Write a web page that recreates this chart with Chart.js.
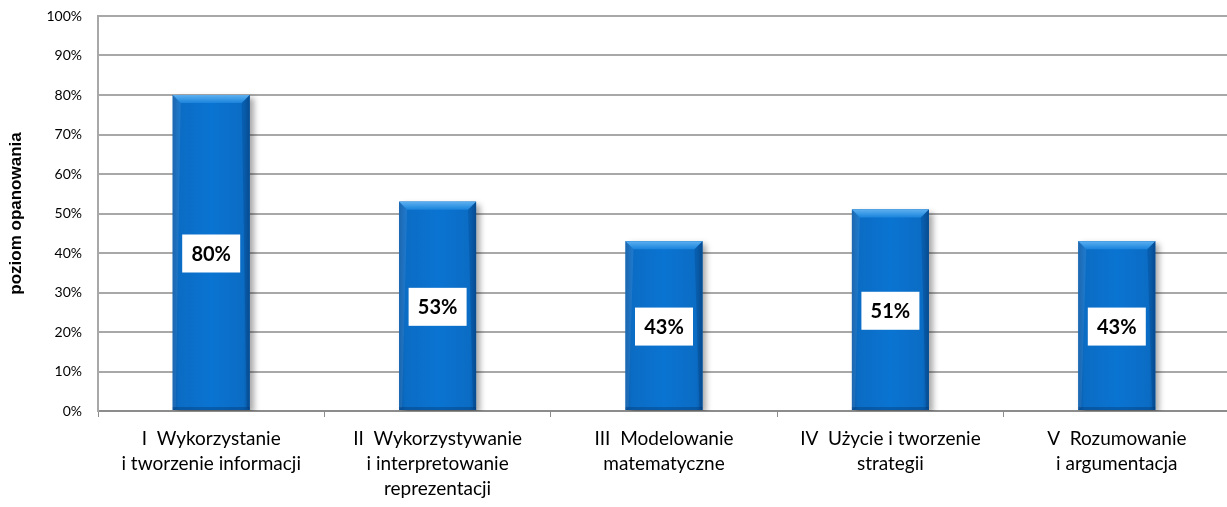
<!DOCTYPE html>
<html>
<head>
<meta charset="utf-8">
<script src="https://cdn.jsdelivr.net/npm/chart.js@4"></script>
<style>
  html, body { margin: 0; padding: 0; background: #fff; overflow: hidden; }
  #wrap { width: 1230px; height: 507px; }
</style>
</head>
<body>
<div id="wrap"><canvas id="chart"></canvas></div>
<script>
// categories, values and tick labels
const categories = [
  ['I  Wykorzystanie', 'i tworzenie informacji'],
  ['II  Wykorzystywanie', 'i interpretowanie', 'reprezentacji'],
  ['III  Modelowanie', 'matematyczne'],
  ['IV  Użycie i tworzenie', 'strategii'],
  ['V  Rozumowanie', 'i argumentacja']
];
const values = [80, 53, 43, 51, 43];
const yTicks = [0, 10, 20, 30, 40, 50, 60, 70, 80, 90, 100];

const FONT = 'Lato, "Open Sans", sans-serif';

// soft shadow behind the bars
const shadowPlugin = {
  id: 'shadow',
  beforeDatasetsDraw(chart) {
    const ctx = chart.ctx;
    ctx.save();
    ctx.shadowColor = 'rgba(0,0,0,0.35)';
    ctx.shadowBlur = 6;
    ctx.shadowOffsetX = 4;
    ctx.shadowOffsetY = 3;
  },
  afterDatasetsDraw(chart) {
    chart.ctx.restore();
  }
};

// bevel-style fill and value boxes
const bevelPlugin = {
  id: 'bevel',
  afterDatasetsDraw(chart) {
    const ctx = chart.ctx;
    const meta = chart.getDatasetMeta(0);
    meta.data.forEach((bar, i) => {
      const left = bar.x - bar.width / 2, right = bar.x + bar.width / 2;
      const top = bar.y, bottom = bar.base;
      ctx.save();
      const g = ctx.createLinearGradient(left, 0, right, 0);
      g.addColorStop(0, '#0a5aa8');
      g.addColorStop(0.08, '#0b6cc4');
      g.addColorStop(0.5, '#0a74d2');
      g.addColorStop(0.92, '#0b6cc4');
      g.addColorStop(1, '#08549e');
      ctx.fillStyle = g;
      ctx.fillRect(left, top, right - left, bottom - top);
      // top bevel
      const b = 8;
      ctx.beginPath();
      ctx.moveTo(left, top); ctx.lineTo(right, top);
      ctx.lineTo(right - b, top + b); ctx.lineTo(left + b, top + b);
      ctx.closePath();
      const tg = ctx.createLinearGradient(0, top, 0, top + b);
      tg.addColorStop(0, '#5db0f0');
      tg.addColorStop(1, '#1a84dc');
      ctx.fillStyle = tg;
      ctx.fill();
      // side bevels
      ctx.fillStyle = 'rgba(0,40,90,0.2)';
      ctx.beginPath();
      ctx.moveTo(right, top); ctx.lineTo(right, bottom);
      ctx.lineTo(right - 3, bottom - 3); ctx.lineTo(right - b, top + b);
      ctx.closePath(); ctx.fill();
      ctx.fillStyle = 'rgba(255,255,255,0.08)';
      ctx.beginPath();
      ctx.moveTo(left, top); ctx.lineTo(left, bottom);
      ctx.lineTo(left + 3, bottom - 3); ctx.lineTo(left + b, top + b);
      ctx.closePath(); ctx.fill();
      // bottom bevel
      ctx.fillStyle = 'rgba(0,40,90,0.3)';
      ctx.fillRect(left, bottom - 3, right - left, 3);

      // value box
      const cy = (top + bottom) / 2 + 1;
      const bw = 58, bh = 38;
      ctx.fillStyle = '#ffffff';
      ctx.fillRect(bar.x - bw / 2, cy - bh / 2, bw, bh);
      ctx.fillStyle = '#000';
      ctx.font = 'bold 20px ' + FONT;
      ctx.textAlign = 'center';
      ctx.textBaseline = 'middle';
      ctx.fillText(values[i] + '%', bar.x, cy + 1);
      ctx.restore();
    });
  }
};

new Chart(document.getElementById('chart'), {
  type: 'bar',
  data: {
    labels: categories,
    datasets: [{
      data: values,
      backgroundColor: '#0a70cc',
      borderWidth: 0,
      categoryPercentage: 1,
      barPercentage: 0.34
    }]
  },
  options: {
    responsive: true,
    maintainAspectRatio: false,
    animation: false,
    events: [],
    layout: { padding: { top: 16, right: 0, bottom: 0, left: 0 } },
    plugins: { legend: { display: false }, tooltip: { enabled: false } },
    scales: {
      x: {
        grid: {
          offset: true,
          drawOnChartArea: false,
          drawTicks: true,
          tickLength: 6,
          color: '#8c8c8c',
          lineWidth: 1
        },
        border: { color: '#8c8c8c', width: 2 },
        ticks: {
          color: '#000',
          font: { family: FONT, size: 19, lineHeight: 1.32 },
          padding: 9,
          maxRotation: 0,
          autoSkip: false
        },
        afterFit(s) { s.height = 96; }
      },
      y: {
        min: 0,
        max: 100,
        afterBuildTicks(s) { s.ticks = yTicks.map(v => ({ value: v })); },
        grid: {
          color: '#a8a8a8',
          lineWidth: 2,
          drawTicks: true,
          tickLength: 12,
          tickColor: 'rgba(0,0,0,0)'
        },
        border: { color: '#a8a8a8', width: 2 },
        ticks: {
          color: '#000',
          font: { family: FONT, size: 14 },
          padding: 4,
          callback: v => v + '%'
        },
        title: {
          display: true,
          text: 'poziom opanowania',
          color: '#000',
          font: { family: '"Liberation Sans", Arial, sans-serif', size: 17, weight: 'bold' },
          padding: { top: 6, bottom: 0 }
        },
        afterFit(s) { s.width = 98; }
      }
    }
  },
  plugins: [shadowPlugin, bevelPlugin]
});
</script>
</body>
</html>
